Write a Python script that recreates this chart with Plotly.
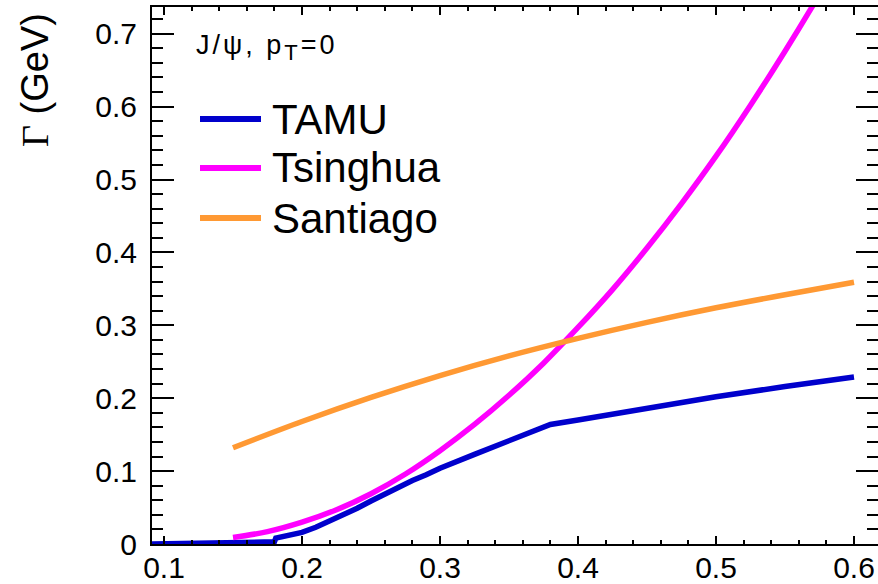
import plotly.graph_objects as go

# ---- data ----
x_tamu = [0.09, 0.12, 0.15, 0.18, 0.181, 0.19, 0.2, 0.21, 0.22, 0.23, 0.24, 0.25, 0.26, 0.27, 0.28, 0.29, 0.3, 0.325, 0.35, 0.38, 0.4, 0.45, 0.5, 0.55, 0.6]
y_tamu = [0.0, 0.0005, 0.001, 0.003, 0.008, 0.011, 0.016, 0.023, 0.031, 0.040, 0.049, 0.059, 0.069, 0.078, 0.087, 0.095, 0.104, 0.123, 0.142, 0.164, 0.170, 0.186, 0.202, 0.216, 0.229]

x_tsinghua = [0.15, 0.175, 0.2, 0.225, 0.25, 0.275, 0.3, 0.325, 0.35, 0.375, 0.4, 0.425, 0.45, 0.475, 0.5, 0.525, 0.55, 0.575, 0.6]
y_tsinghua = [0.009, 0.017, 0.030, 0.047, 0.069, 0.096, 0.128, 0.164, 0.204, 0.248, 0.297, 0.349, 0.406, 0.467, 0.532, 0.602, 0.676, 0.754, 0.837]

x_santiago = [0.15, 0.2, 0.25, 0.3, 0.35, 0.4, 0.45, 0.5, 0.55, 0.6]
y_santiago = [0.132, 0.168, 0.201, 0.231, 0.258, 0.282, 0.304, 0.324, 0.342, 0.359]

series_names = ["TAMU", "Tsinghua", "Santiago"]
series_colors = ["#0000cc", "#ff00ff", "#ff9933"]

W, H = 878, 584
ML, MR, MT, MB = 152, 0, 7, 40
PW, PH = W - ML - MR, H - MT - MB

def px2paper(px, py):
    return (px - ML) / PW, (H - MB - py) / PH

FONT = "Liberation Sans, Arial, Helvetica, sans-serif"

fig = go.Figure()
data = [(x_tamu, y_tamu, "linear"), (x_tsinghua, y_tsinghua, "spline"), (x_santiago, y_santiago, "spline")]
for (xs, ys, shp), name, col in zip(data, series_names, series_colors):
    fig.add_trace(go.Scatter(x=xs, y=ys, mode="lines", name=name,
                             line=dict(color=col, width=5.5, shape=shp),
                             showlegend=False))

# manual legend
leg_y = [119, 168, 218]
for name, col, ly in zip(series_names, series_colors, leg_y):
    x0, yy = px2paper(200, ly)
    x1, _ = px2paper(261, ly)
    fig.add_shape(type="line", xref="paper", yref="paper", x0=x0, x1=x1, y0=yy, y1=yy,
                  line=dict(color=col, width=6))
    tx, _ = px2paper(270, ly)
    fig.add_annotation(xref="paper", yref="paper", x=tx, y=yy, text=name, showarrow=False,
                       xanchor="left", yanchor="middle", font=dict(family=FONT, size=42, color="black"))

hx, hy = px2paper(194, 48)
fig.add_annotation(xref="paper", yref="paper", x=hx, y=hy,
                   text="<span style='letter-spacing:3px'>J/ψ, p<sub><span style='font-size:22px'>T</span></sub>=0</span>",
                   showarrow=False, xanchor="left", yanchor="middle",
                   font=dict(family=FONT, size=27, color="black"))

# y-axis title (placed near top, as in ROOT)
tx, ty = px2paper(35, 80)
fig.add_annotation(xref="paper", yref="paper", x=tx, y=ty,
                   text="<span style='font-family:Liberation Serif, Times New Roman, serif'>Γ</span> (GeV)",
                   showarrow=False, textangle=-90, xanchor="center", yanchor="middle",
                   font=dict(family=FONT, size=38, color="black"))

fig.update_xaxes(range=[0.0913, 0.6174], showline=True, linecolor="black", linewidth=2, mirror="allticks",
                 ticks="inside", ticklen=8, tickwidth=2, tickcolor="black", dtick=0.1, tick0=0.1,
                 tickformat=".1f", showgrid=False, zeroline=False, automargin=False,
                 minor=dict(ticks="inside", ticklen=4, tickwidth=2, tickcolor="black", dtick=0.02, showgrid=False),
                 tickfont=dict(family=FONT, size=30, color="black"), ticklabelstandoff=-4)
fig.update_yaxes(range=[0, PH / 729.0], showline=True, linecolor="black", linewidth=2, mirror="allticks",
                 ticks="inside", ticklen=22, tickwidth=2, tickcolor="black",
                 tickvals=[0, 0.1, 0.2, 0.3, 0.4, 0.5, 0.6, 0.7],
                 ticktext=["0", "0.1", "0.2", "0.3", "0.4", "0.5", "0.6", "0.7"],
                 showgrid=False, zeroline=False, automargin=False,
                 minor=dict(ticks="inside", ticklen=11, tickwidth=2, tickcolor="black", dtick=0.02, tick0=0, showgrid=False),
                 tickfont=dict(family=FONT, size=30, color="black"), ticklabelstandoff=7)

fig.update_layout(width=W, height=H, margin=dict(l=ML, r=MR, t=MT, b=MB, pad=0),
                  plot_bgcolor="white", paper_bgcolor="white", showlegend=False)

fig.write_html("out.html")
